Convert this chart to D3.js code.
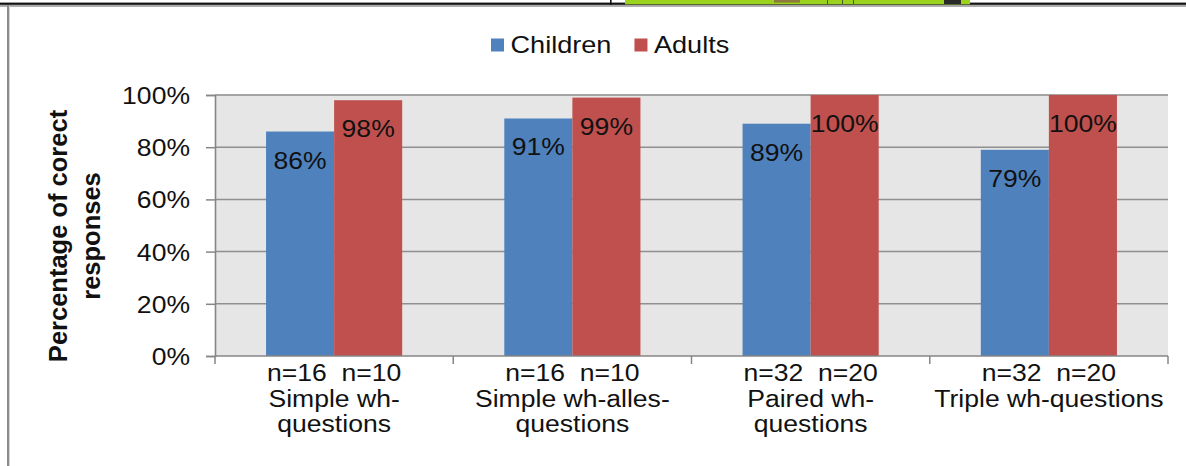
<!DOCTYPE html>
<html>
<head>
<meta charset="utf-8">
<script src="https://cdn.jsdelivr.net/npm/d3@7/dist/d3.min.js"></script>
<style>
  html, body { margin: 0; padding: 0; background: #ffffff; overflow: hidden; }
  text { font-family: "Liberation Sans", Arial, sans-serif; fill: #111; }
</style>
</head>
<body>
<svg id="chart" width="1186" height="466"></svg>
<script>
// ---- data ----
const categories = ["Simple wh-questions", "Simple wh-alles-questions", "Paired wh-questions", "Triple wh-questions"];
const categoryLines = [["Simple wh-", "questions"], ["Simple wh-alles-", "questions"], ["Paired wh-", "questions"], ["Triple wh-questions"]];
const seriesNames = ["Children", "Adults"];
const childrenValues = [0.86, 0.91, 0.89, 0.79];
const adultsValues = [0.98, 0.99, 1.00, 1.00];
const childrenN = [16, 16, 32, 32];
const adultsN = [10, 10, 20, 20];
const yTickValues = [0, 0.2, 0.4, 0.6, 0.8, 1.0];
const yTitleLines = ["Percentage of corect", "responses"];

// ---- layout & style ----
const W = 1186, H = 466;
const plot = { left: 215, right: 1168, top: 95, bottom: 356 };
const colors = { Children: "#4f81bd", Adults: "#c0504d" };
const SX = 1.13;          // horizontal glyph stretch of the chart text
const FS = 23.5;          // body font size

const svg = d3.select("#chart");

// text helper: position by translate, stretch horizontally
function label(parent, x, y, str, anchor, size, weight) {
  return parent.append("text")
    .attr("transform", `translate(${x},${y}) scale(${SX},1)`)
    .attr("text-anchor", anchor || "middle")
    .style("font-size", (size || FS) + "px")
    .style("font-weight", weight || "normal")
    .style("white-space", "pre")
    .text(str);
}

// ---- page decoration along the top edge ----
const deco = svg.append("g");
deco.append("rect").attr("x", 0).attr("y", 4.7).attr("width", W).attr("height", 2.2).attr("fill", "#a8a8a8");
deco.append("rect").attr("x", 0).attr("y", 2.6).attr("width", W).attr("height", 2.2).attr("fill", "#111");
deco.append("rect").attr("x", 610).attr("y", 0).attr("width", 1.6).attr("height", 5).attr("fill", "#111");
deco.append("rect").attr("x", 625).attr("y", 0).attr("width", 345).attr("height", 4.3).attr("fill", "#9bd21c");
deco.append("rect").attr("x", 774).attr("y", 0).attr("width", 26).attr("height", 2.6).attr("fill", "#8d7a3c");
deco.append("rect").attr("x", 944).attr("y", 0).attr("width", 17).attr("height", 4).attr("fill", "#2a2a2a");
[827, 842, 853].forEach(xx => deco.append("rect").attr("x", xx).attr("y", 0).attr("width", 1).attr("height", 4).attr("fill", "#4a5a20"));

// chart frame (left edge)
svg.append("rect").attr("x", 7).attr("y", 5).attr("width", 2).attr("height", H - 5).attr("fill", "#8c8c8c");
svg.append("rect").attr("x", 9).attr("y", 6).attr("width", 1).attr("height", H - 6).attr("fill", "#d6d6d6");

// ---- scales ----
const x0 = d3.scaleBand().domain(categories).range([plot.left, plot.right]).paddingInner(0).paddingOuter(0);
const x1 = d3.scaleBand().domain(seriesNames).range([0, x0.bandwidth()]).paddingInner(0).paddingOuter(0.75);
const y = d3.scaleLinear().domain([0, 1]).range([plot.bottom, plot.top]);

// ---- plot area ----
svg.append("rect")
  .attr("x", plot.left).attr("y", plot.top)
  .attr("width", plot.right - plot.left).attr("height", plot.bottom - plot.top)
  .attr("fill", "#e6e6e6");

// horizontal gridlines
svg.append("g").selectAll("line").data(yTickValues.filter(d => d > 0)).join("line")
  .attr("x1", plot.left).attr("x2", plot.right)
  .attr("y1", d => y(d)).attr("y2", d => y(d))
  .attr("stroke", d => d === 1 ? "#a4a4a4" : "#8f8f8f")
  .attr("stroke-width", d => d === 1 ? 2.2 : 1.5);

// ---- bars ----
const rows = categories.map((c, i) => ({ cat: c, values: [
  { s: "Children", v: childrenValues[i] },
  { s: "Adults", v: adultsValues[i] }
]}));

const groups = svg.append("g").selectAll("g").data(rows).join("g")
  .attr("transform", d => `translate(${x0(d.cat)},0)`);

groups.selectAll("rect").data(d => d.values).join("rect")
  .attr("x", d => x1(d.s))
  .attr("y", d => y(d.v))
  .attr("width", x1.bandwidth())
  .attr("height", d => y(0) - y(d.v))
  .attr("fill", d => colors[d.s]);

// value labels inside the top of each bar
const pct = d3.format(".0%");
groups.each(function (d) {
  const g = d3.select(this);
  d.values.forEach(v => {
    label(g, x1(v.s) + x1.bandwidth() / 2, y(v.v) + 37, pct(v.v));
  });
});

// ---- y axis ----
const yAxis = d3.axisLeft(y).tickValues(yTickValues).tickFormat(pct).tickSize(9).tickPadding(0);
const yg = svg.append("g").attr("transform", `translate(${plot.left},0)`).call(yAxis);
yg.select(".domain").attr("stroke", "#868686").attr("stroke-width", 1.6);
yg.selectAll(".tick line").attr("stroke", "#868686").attr("stroke-width", 1.5);
yg.selectAll(".tick text")
  .attr("x", null).attr("dy", null)
  .attr("transform", `translate(-25,8.4) scale(${SX},1)`)
  .attr("text-anchor", "end")
  .style("font-size", FS + "px")
  .style("font-family", '"Liberation Sans", Arial, sans-serif')
  .attr("fill", "#111");

// ---- x axis ----
const xg = svg.append("g");
xg.append("line")
  .attr("x1", plot.left).attr("x2", plot.right)
  .attr("y1", plot.bottom).attr("y2", plot.bottom)
  .attr("stroke", "#868686").attr("stroke-width", 1.6);
const bounds = categories.map(c => x0(c)).concat([x0(categories[categories.length - 1]) + x0.bandwidth()]);
xg.selectAll("line.tick").data(bounds).join("line").attr("class", "tick")
  .attr("x1", d => d).attr("x2", d => d)
  .attr("y1", plot.bottom).attr("y2", plot.bottom + 8)
  .attr("stroke", "#868686").attr("stroke-width", 1.5);

// category labels: sample sizes, then category name
categories.forEach((c, i) => {
  const cx = x0(c) + x0.bandwidth() / 2;
  label(xg, cx, 381, `n=${childrenN[i]}  n=${adultsN[i]}`);
  categoryLines[i].forEach((line, j) => label(xg, cx, 406.5 + j * 25.5, line));
});

// ---- y axis title ----
const yt = svg.append("g");
yTitleLines.forEach((line, j) => {
  yt.append("text")
    .attr("transform", `translate(${66.5 + j * 33},236) rotate(-90)`)
    .attr("text-anchor", "middle")
    .style("font-size", "25.5px")
    .style("font-weight", "bold")
    .text(line);
});

// ---- legend ----
const lg = svg.append("g");
let lx = 491;
seriesNames.forEach(s => {
  lg.append("rect").attr("x", lx).attr("y", 38.5).attr("width", 13).attr("height", 13).attr("fill", colors[s]);
  const t = label(lg, lx + 19.5, 52.5, s, "start", 24);
  lx += 19.5 + t.node().getComputedTextLength() * SX + 23;
});
</script>
</body>
</html>
